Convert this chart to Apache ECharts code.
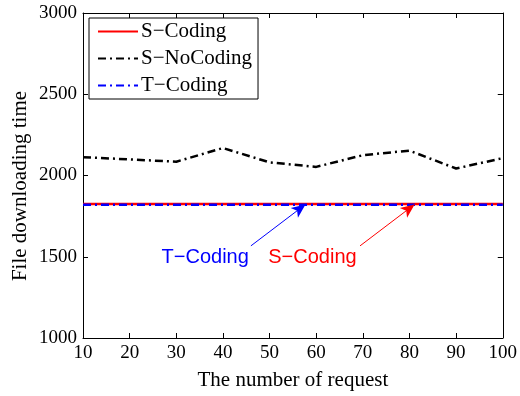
<!DOCTYPE html>
<html>
<head>
<meta charset="utf-8">
<script src="https://cdn.jsdelivr.net/npm/echarts@6/dist/echarts.min.js"></script>
<style>
  html, body { margin: 0; padding: 0; background: #fff; }
  #chart { width: 520px; height: 396px; }
</style>
</head>
<body>
<div id="chart"></div>
<script>
// Number of requests on the x axis
const requests = [10, 20, 30, 40, 50, 60, 70, 80, 90, 100];

// File downloading time per scheme
const sCoding   = [1825, 1825, 1825, 1825, 1825, 1825, 1825, 1825, 1825, 1825];
const sNoCoding = [2113, 2099, 2085, 2169, 2081, 2053, 2125, 2153, 2043, 2107];
const tCoding   = [1820, 1820, 1820, 1820, 1820, 1820, 1820, 1820, 1820, 1820];

// Axis ranges
const xTicks = { min: 10, max: 100, step: 10 };
const yTicks = { min: 1000, max: 3000, step: 500 };

// Callout arrows: label text, start point, tip point, label anchor
const tArrow = { text: 'T\u2212Coding', from: [46, 1567], to: [57.7, 1822], label: [36.2, 1498] };
const sArrow = { text: 'S\u2212Coding', from: [69.4, 1567], to: [81.1, 1822], label: [59.2, 1498] };

const serif = '"Liberation Serif", "Times New Roman", serif';
const sans = '"Liberation Sans", Arial, sans-serif';

const pair = (xs, ys) => xs.map((x, i) => [x, ys[i]]);

const chart = echarts.init(document.getElementById('chart'), null, { renderer: 'canvas' });

const axisCommon = {
  type: 'value',
  axisLine: { show: true, onZero: false, lineStyle: { color: '#000', width: 1 } },
  axisTick: { show: true, inside: true, length: 5, lineStyle: { color: '#000', width: 1 } },
  splitLine: { show: false }
};

function arrowLine(a, color) {
  return {
    silent: true,
    symbol: ['none', 'arrow'],
    symbolSize: [9, 14],
    lineStyle: { color: color, width: 1, type: 'solid' },
    label: { show: false },
    emphasis: { disabled: true },
    data: [[{ coord: a.from }, { coord: a.to }]]
  };
}

function calloutText(a, color) {
  return {
    silent: true,
    symbol: 'circle',
    symbolSize: 0,
    label: {
      show: true, position: 'inside', formatter: a.text,
      color: color, fontFamily: sans, fontSize: 20
    },
    data: [{ coord: a.label }]
  };
}

chart.setOption({
  animation: false,
  backgroundColor: '#fff',
  grid: { left: 83, right: 15, top: 13, bottom: 50, containLabel: false },
  xAxis: [
    Object.assign({}, axisCommon, {
      position: 'bottom',
      min: xTicks.min, max: xTicks.max, interval: xTicks.step,
      name: 'The number of request',
      nameLocation: 'middle', nameGap: 32,
      nameTextStyle: { fontFamily: serif, fontSize: 21, color: '#000' },
      axisLabel: { fontFamily: serif, fontSize: 19, color: '#000', margin: 6, formatter: v => String(v) }
    }),
    Object.assign({}, axisCommon, {
      position: 'top',
      min: xTicks.min, max: xTicks.max, interval: xTicks.step,
      axisLabel: { show: false }
    })
  ],
  yAxis: [
    Object.assign({}, axisCommon, {
      position: 'left',
      min: yTicks.min, max: yTicks.max, interval: yTicks.step,
      axisLabel: { fontFamily: serif, fontSize: 19, color: '#000', margin: 6, formatter: v => String(v) }
    }),
    Object.assign({}, axisCommon, {
      position: 'right',
      min: yTicks.min, max: yTicks.max, interval: yTicks.step,
      axisLabel: { show: false }
    })
  ],
  legend: {
    orient: 'vertical',
    left: 89, top: 18,
    padding: [3, 6, 3, 8],
    itemWidth: 40, itemHeight: 20, itemGap: 6,
    itemStyle: { opacity: 0 },
    backgroundColor: '#fff',
    borderColor: '#000', borderWidth: 1, borderRadius: 0,
    textStyle: { fontFamily: serif, fontSize: 21, color: '#000', padding: [0, 0, 0, -2] },
    data: ['S\u2212Coding', 'S\u2212NoCoding', 'T\u2212Coding']
  },
  graphic: [{
    type: 'text',
    x: 20, y: 186,
    rotation: Math.PI / 2,
    style: {
      text: 'File downloading time',
      font: '21px ' + serif,
      fill: '#000',
      textAlign: 'center',
      textVerticalAlign: 'middle'
    }
  }],
  series: [
    {
      name: 'S\u2212Coding',
      type: 'line',
      data: pair(requests, sCoding),
      symbol: 'none',
      showSymbol: false,
      lineStyle: { color: '#ff0000', width: 2.5, type: 'solid' },
      itemStyle: { color: '#ff0000' },
      z: 2,
      markLine: arrowLine(sArrow, '#ff0000'),
      markPoint: calloutText(sArrow, '#ff0000')
    },
    {
      name: 'S\u2212NoCoding',
      type: 'line',
      data: pair(requests, sNoCoding),
      symbol: 'none',
      showSymbol: false,
      lineStyle: { color: '#000', width: 2.5, type: [8, 4, 2, 4], cap: 'butt' },
      itemStyle: { color: '#000' },
      z: 3
    },
    {
      name: 'T\u2212Coding',
      type: 'line',
      data: pair(requests, tCoding),
      symbol: 'none',
      showSymbol: false,
      lineStyle: { color: '#0000ff', width: 2.5, type: [8, 4, 2, 4], cap: 'butt' },
      itemStyle: { color: '#0000ff' },
      z: 4,
      markLine: arrowLine(tArrow, '#0000ff'),
      markPoint: calloutText(tArrow, '#0000ff')
    }
  ]
});
</script>
</body>
</html>
